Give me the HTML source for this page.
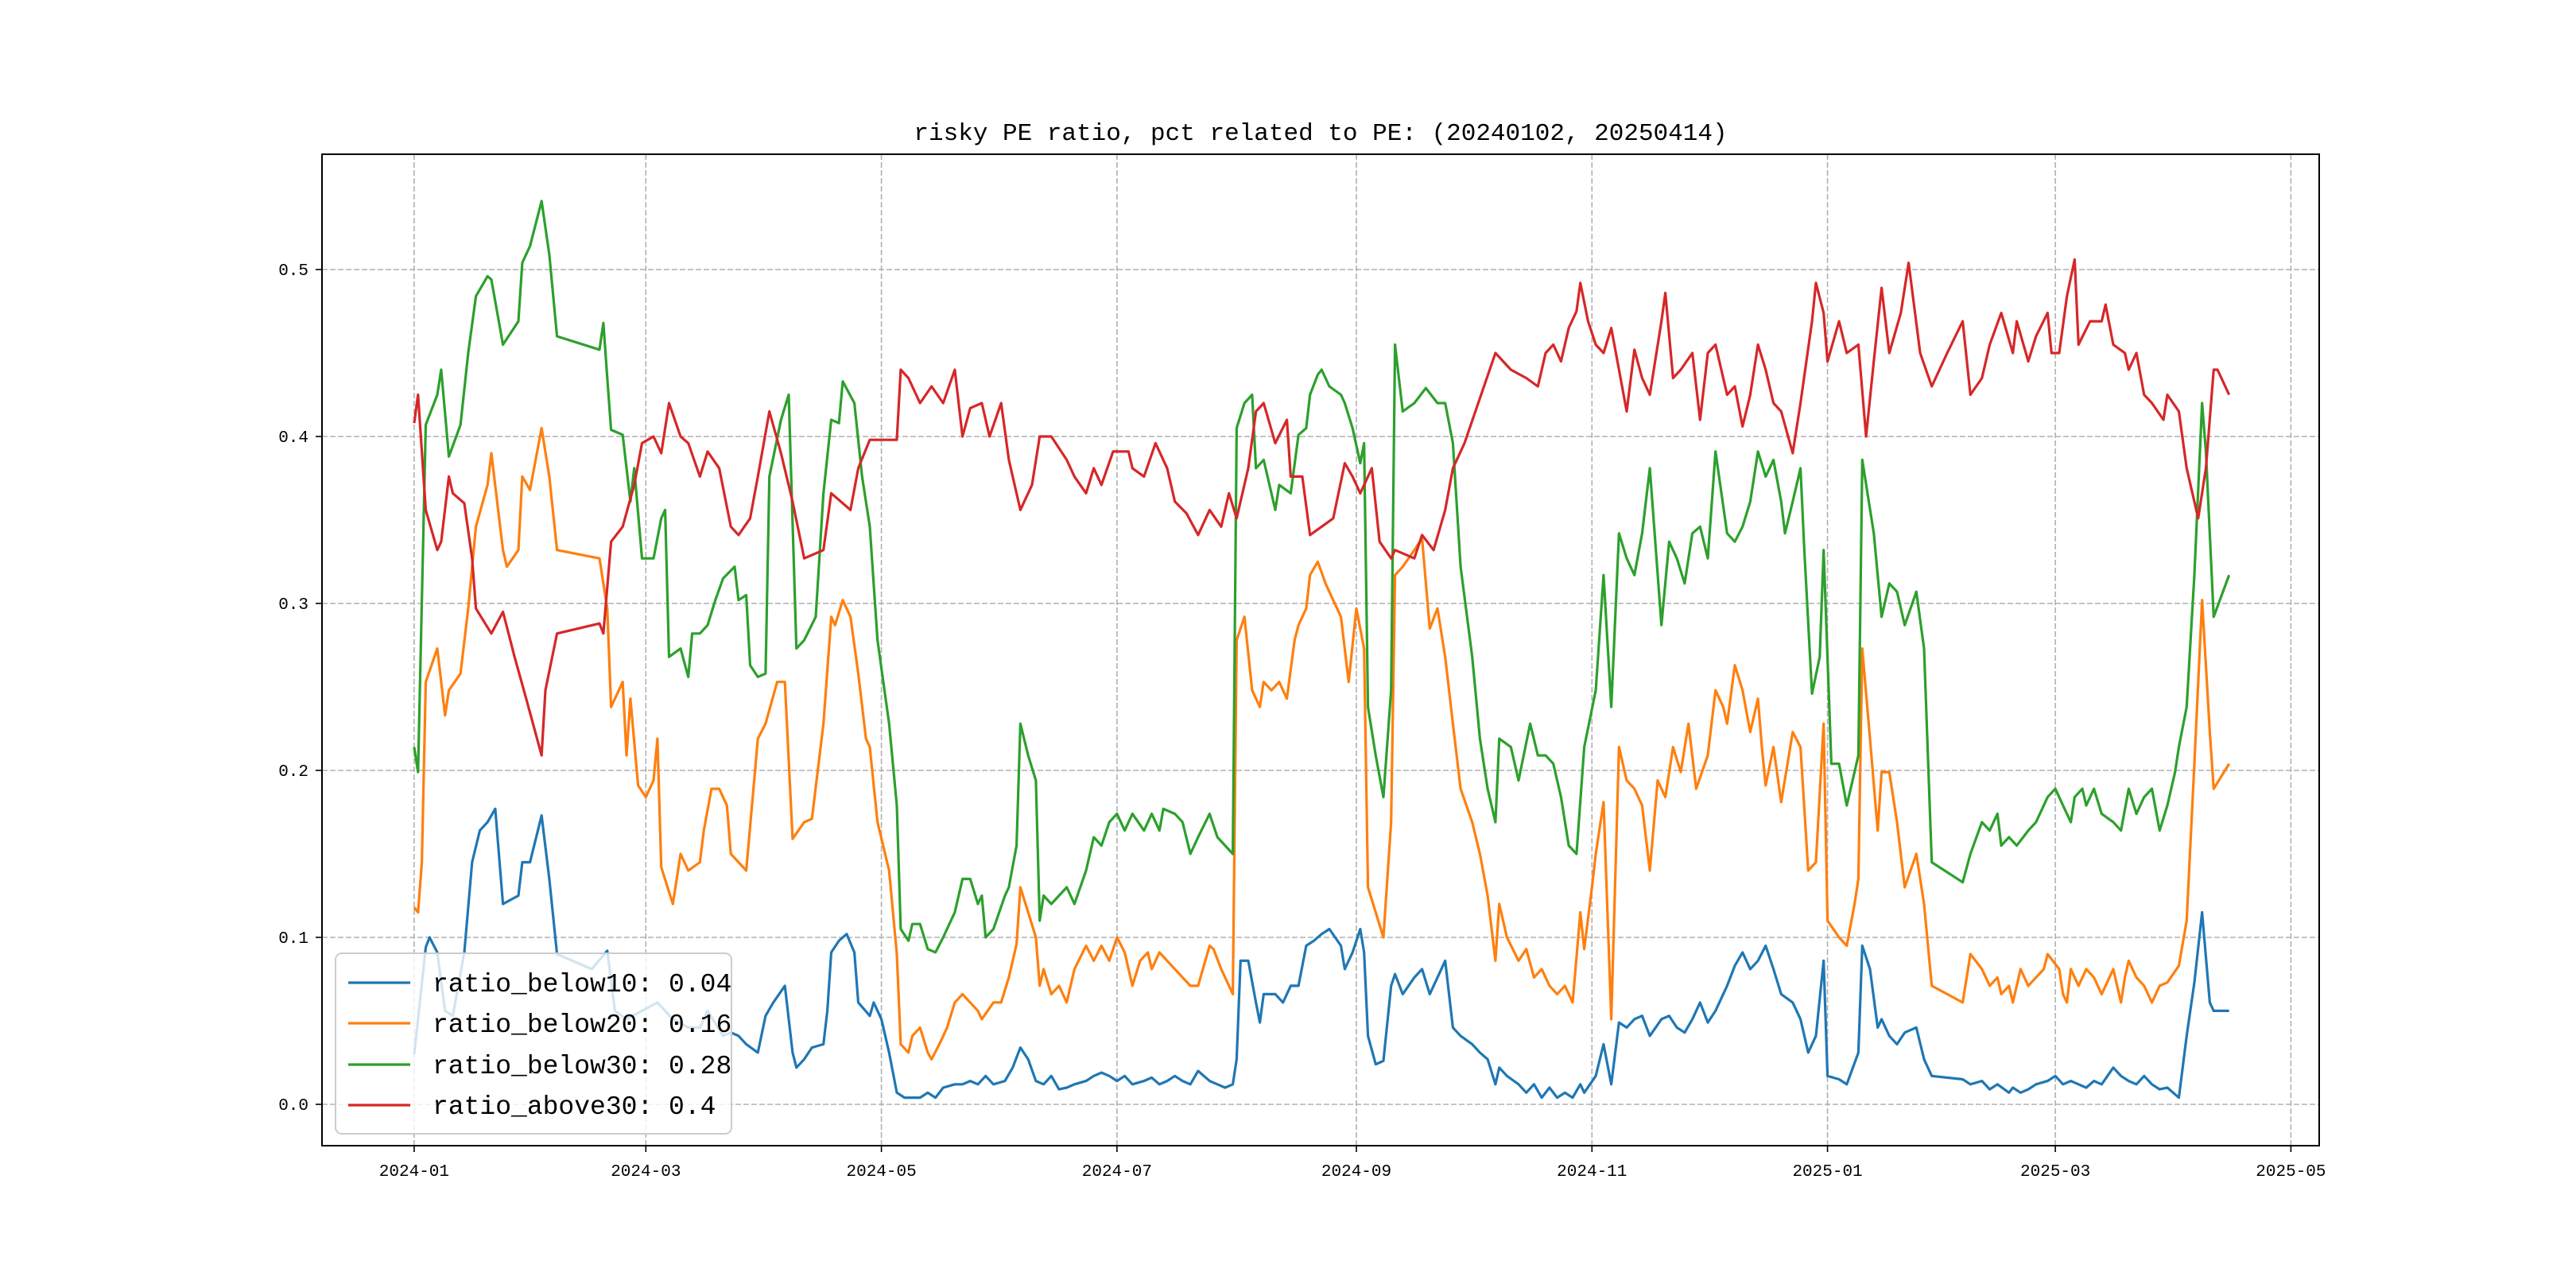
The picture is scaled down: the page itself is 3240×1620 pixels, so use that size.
<!DOCTYPE html>
<html>
<head>
<meta charset="utf-8">
<style>
html,body{margin:0;padding:0;background:#fff;}
svg{display:block;}
text{font-family:"Liberation Mono","WenQuanYi Zen Hei",monospace;fill:#000;}
</style>
</head>
<body>
<svg id="chart" width="3240" height="1620" viewBox="0 0 3240 1620" xmlns="http://www.w3.org/2000/svg">
<rect width="3240" height="1620" fill="#fff"/>
<text x="1661" y="176" font-size="31" text-anchor="middle">risky PE ratio, pct related to PE: (20240102, 20250414)</text>
<g id="grid"></g>
<g id="series"></g>
<rect x="405" y="194" width="2512" height="1247" fill="none" stroke="#000" stroke-width="2"/>
<g id="ticks"></g>
<g id="legend">
<rect x="422" y="1199" width="498" height="227" rx="8" fill="#fff" fill-opacity="0.8" stroke="#ccc" stroke-width="2"/>
<line x1="438" y1="1236" x2="516" y2="1236" stroke="#1f77b4" stroke-width="3.2"/>
<text x="544" y="1247" font-size="33">ratio_below10: 0.04</text>
<line x1="438" y1="1287" x2="516" y2="1287" stroke="#ff7f0e" stroke-width="3.2"/>
<text x="544" y="1298" font-size="33">ratio_below20: 0.16</text>
<line x1="438" y1="1339" x2="516" y2="1339" stroke="#2ca02c" stroke-width="3.2"/>
<text x="544" y="1350" font-size="33">ratio_below30: 0.28</text>
<line x1="438" y1="1390" x2="516" y2="1390" stroke="#d62728" stroke-width="3.2"/>
<text x="544" y="1401" font-size="33">ratio_above30: 0.4</text>
</g>
</svg>
<script>
// days since 2024-01-01
const xTickDays = [0,60,121,182,244,305,366,425,486];
const xTickLabels = ["2024-01","2024-03","2024-05","2024-07","2024-09","2024-11","2025-01","2025-03","2025-05"];
const yTickValues = [0,0.1,0.2,0.3,0.4,0.5];
const yTickLabels = ["0.0","0.1","0.2","0.3","0.4","0.5"];

const redDays = [0,1,3,6,7,9,10,13,15,16,20,23,26,29,33,34,37,48,49,51,54,57,59,62,64,66,69,71,74,76,79,82,84,87,89,92,95,98,101,106,108,113,115,118,125,126,128,131,134,137,140,142,144,147,149,152,154,157,160,162,165,169,171,174,176,178,181,185,186,189,192,195,197,200,203,206,209,211,213,216,218,220,223,226,227,230,232,235,238,241,243,245,248,250,253,254,259,261,264,267,269,272,280,284,288,291,293,295,297,299,301,302,304,306,308,310,312,314,316,318,320,323,324,326,328,331,333,335,337,340,342,344,346,348,350,352,354,357,359,362,363,365,366,369,371,374,376,378,380,382,385,387,390,393,397,401,403,406,408,411,414,415,418,420,423,424,426,428,430,431,434,437,438,440,443,444,446,448,450,453,454,457,459,462,464,466,467,470];
const redValues = [.408,.425,.356,.332,.337,.376,.366,.36,.327,.297,.282,.295,.268,.243,.209,.248,.282,.288,.282,.337,.346,.371,.396,.4,.39,.42,.4,.396,.376,.391,.381,.346,.341,.351,.376,.415,.39,.361,.327,.332,.366,.356,.381,.398,.398,.44,.435,.42,.43,.42,.44,.4,.417,.42,.4,.42,.386,.356,.371,.4,.4,.386,.376,.366,.381,.371,.391,.391,.381,.376,.396,.381,.361,.354,.341,.356,.346,.366,.351,.381,.415,.42,.396,.41,.376,.376,.341,.346,.351,.384,.376,.366,.381,.337,.327,.332,.327,.341,.332,.356,.381,.396,.45,.44,.435,.43,.45,.455,.445,.465,.475,.492,.469,.455,.45,.465,.44,.415,.452,.435,.425,.469,.486,.435,.44,.45,.41,.45,.455,.425,.43,.406,.425,.455,.44,.42,.415,.39,.42,.469,.492,.474,.445,.469,.45,.455,.4,.445,.489,.45,.474,.504,.45,.43,.45,.469,.425,.435,.455,.474,.45,.469,.445,.46,.474,.45,.45,.484,.506,.455,.469,.469,.479,.455,.45,.44,.45,.425,.42,.41,.425,.415,.381,.351,.381,.44,.44,.425];

const greenDays = [0,1,3,6,7,9,12,14,16,19,20,23,27,28,30,33,35,37,48,49,50,51,54,56,57,59,62,64,65,66,69,71,72,74,76,78,80,83,84,86,87,89,91,92,95,97,99,101,104,106,108,110,111,114,116,118,120,123,125,126,128,129,131,133,135,137,140,142,144,146,147,148,150,153,154,156,157,159,161,162,163,165,167,169,171,174,176,178,180,182,184,186,189,191,193,194,197,199,201,203,206,208,210,212,213,215,217,218,220,223,224,227,229,231,232,234,235,237,240,241,243,245,246,247,249,251,253,254,256,259,262,265,267,269,271,274,276,278,280,281,284,286,289,291,293,295,297,299,301,303,306,308,310,312,314,316,318,320,323,325,327,329,331,333,335,337,340,342,344,346,348,350,352,354,355,357,359,360,362,364,365,367,369,371,374,375,378,380,382,384,386,389,391,393,401,403,406,408,410,411,413,415,418,420,423,425,427,429,430,432,433,435,437,440,442,444,446,448,450,452,454,456,457,459,461,463,464,466,470];
const greenValues = [.214,.199,.407,.425,.44,.388,.407,.45,.484,.496,.494,.455,.469,.504,.514,.541,.509,.46,.452,.468,.435,.404,.401,.361,.381,.327,.327,.351,.356,.268,.273,.256,.282,.282,.287,.302,.315,.322,.302,.305,.263,.256,.258,.376,.41,.425,.273,.278,.292,.366,.41,.408,.433,.42,.376,.346,.278,.228,.179,.105,.098,.108,.108,.093,.091,.1,.115,.135,.135,.12,.125,.1,.105,.125,.13,.155,.228,.209,.194,.11,.125,.12,.125,.13,.12,.14,.16,.155,.169,.174,.164,.174,.164,.174,.164,.177,.174,.169,.15,.16,.174,.16,.155,.15,.405,.42,.425,.381,.386,.356,.371,.366,.401,.405,.425,.437,.44,.43,.425,.42,.405,.384,.396,.238,.209,.184,.248,.455,.415,.42,.429,.42,.42,.396,.322,.268,.219,.189,.169,.219,.214,.194,.228,.209,.209,.204,.184,.155,.15,.214,.248,.317,.238,.342,.327,.317,.342,.381,.287,.337,.327,.312,.342,.346,.327,.391,.342,.337,.346,.361,.391,.376,.386,.361,.342,.361,.381,.332,.246,.268,.332,.204,.204,.179,.209,.386,.342,.292,.312,.307,.287,.307,.273,.145,.133,.15,.169,.164,.174,.155,.16,.155,.164,.169,.184,.189,.179,.169,.184,.189,.179,.189,.174,.169,.164,.189,.174,.184,.189,.164,.179,.199,.214,.238,.317,.42,.391,.292,.317];

const orangeDays = [0,1,2,3,6,8,9,12,14,16,19,20,23,24,27,28,30,33,35,37,48,50,51,54,55,56,58,60,62,63,64,67,69,71,74,75,77,79,81,82,84,86,89,91,94,96,98,101,103,106,108,109,111,113,115,117,118,120,123,125,126,128,129,131,133,134,136,138,140,142,144,146,147,150,152,154,156,157,159,161,162,163,165,167,169,171,174,176,178,180,182,184,186,188,190,191,193,195,197,199,201,203,206,207,209,210,212,213,215,217,219,220,222,224,226,228,229,231,232,234,236,237,240,242,244,246,247,249,251,253,254,256,259,261,263,265,267,269,271,274,276,278,280,281,283,286,288,290,292,294,296,298,300,302,303,305,306,308,310,312,314,316,318,320,322,324,326,328,330,332,335,337,339,340,342,344,346,348,349,350,352,354,357,359,361,363,365,366,369,371,373,374,375,377,379,380,382,384,386,389,391,393,401,403,406,408,410,411,413,414,416,418,420,422,423,426,427,428,429,431,433,435,437,440,442,443,444,446,448,450,452,454,457,459,461,463,465,466,470];
const orangeValues = [.118,.115,.145,.253,.273,.233,.248,.258,.297,.346,.371,.39,.332,.322,.332,.376,.368,.405,.376,.332,.327,.297,.238,.253,.209,.243,.191,.184,.194,.219,.142,.12,.15,.14,.145,.164,.189,.189,.179,.15,.145,.14,.219,.228,.253,.253,.159,.169,.171,.228,.292,.287,.302,.292,.258,.219,.214,.169,.14,.09,.036,.031,.041,.046,.031,.027,.036,.046,.061,.066,.061,.056,.051,.061,.061,.076,.096,.13,.115,.1,.071,.081,.066,.071,.061,.081,.095,.086,.095,.086,.1,.091,.071,.086,.091,.081,.091,.086,.081,.076,.071,.071,.095,.093,.081,.076,.066,.278,.292,.248,.238,.253,.248,.253,.243,.278,.287,.297,.317,.325,.312,.307,.292,.253,.297,.273,.13,.115,.1,.169,.317,.322,.332,.339,.285,.297,.268,.228,.189,.169,.15,.125,.086,.12,.1,.086,.093,.076,.081,.071,.066,.071,.061,.115,.093,.13,.15,.181,.051,.214,.194,.189,.179,.14,.194,.184,.214,.199,.228,.189,.209,.248,.238,.228,.263,.248,.223,.243,.214,.191,.214,.181,.223,.214,.14,.145,.228,.11,.1,.095,.12,.135,.273,.219,.164,.199,.199,.169,.13,.15,.12,.071,.061,.09,.081,.071,.076,.066,.071,.061,.081,.071,.076,.081,.09,.081,.066,.061,.081,.071,.081,.076,.066,.081,.061,.076,.086,.076,.071,.061,.071,.073,.083,.11,.204,.302,.223,.189,.204];

const blueDays = [0,1,3,4,6,8,10,13,15,17,19,21,23,27,28,30,33,35,37,46,50,52,55,59,63,67,71,74,76,80,82,84,86,89,91,93,96,98,99,101,103,106,107,108,110,112,114,115,118,119,121,123,125,127,129,131,133,135,137,140,142,144,146,148,150,153,155,157,159,161,163,165,167,169,171,174,176,178,180,182,184,186,189,191,193,195,197,199,201,203,206,208,210,212,213,214,216,218,219,220,223,225,227,229,231,233,235,237,240,241,243,245,246,247,249,251,253,254,256,259,261,263,265,267,269,271,274,276,278,280,281,283,286,288,290,292,294,296,298,300,302,303,306,308,310,312,314,316,318,320,323,325,327,329,331,333,335,337,340,342,344,346,348,350,352,354,357,359,361,363,365,366,369,371,374,375,377,379,380,382,384,386,389,391,393,401,403,406,408,410,413,414,416,418,420,423,425,427,429,431,433,435,437,440,442,444,446,448,450,452,454,457,459,461,463,465,466,470];
const blueValues = [.03,.051,.094,.1,.091,.056,.053,.091,.145,.164,.169,.177,.12,.125,.145,.145,.173,.135,.09,.081,.092,.056,.051,.056,.061,.051,.046,.046,.056,.041,.043,.041,.036,.031,.053,.061,.071,.031,.022,.027,.034,.036,.056,.091,.098,.102,.091,.061,.053,.061,.051,.031,.007,.004,.004,.004,.007,.004,.01,.012,.012,.014,.012,.017,.012,.014,.022,.034,.027,.014,.012,.017,.009,.01,.012,.014,.017,.019,.017,.014,.017,.012,.014,.016,.012,.014,.017,.014,.012,.02,.014,.012,.01,.012,.027,.086,.086,.061,.049,.066,.066,.061,.071,.071,.095,.098,.102,.105,.095,.081,.091,.105,.091,.041,.024,.026,.071,.078,.066,.076,.081,.066,.076,.086,.046,.041,.036,.031,.027,.012,.022,.017,.012,.007,.012,.004,.01,.004,.007,.004,.012,.007,.017,.036,.012,.049,.046,.051,.053,.041,.051,.053,.046,.043,.051,.061,.049,.056,.071,.083,.091,.081,.086,.095,.081,.066,.061,.051,.031,.041,.086,.017,.015,.012,.031,.095,.081,.046,.051,.041,.036,.043,.046,.027,.017,.015,.012,.014,.009,.012,.007,.01,.007,.009,.012,.014,.017,.012,.014,.012,.01,.014,.012,.022,.017,.014,.012,.017,.012,.009,.01,.004,.041,.073,.115,.061,.056,.056];

const NS = "http://www.w3.org/2000/svg";
const X0 = 520.9, PXDAY = 4.857, Y0 = 1389, PXUNIT = 2100;
const L = 405, R = 2917, T = 194, B = 1441;
function xScale(d){ return X0 + d * PXDAY; }
function yScale(v){ return Y0 - v * PXUNIT; }

const grid = document.getElementById('grid');
const ticks = document.getElementById('ticks');
xTickDays.forEach((d,i)=>{
  const x = xScale(d);
  const gl = document.createElementNS(NS,'line');
  gl.setAttribute('x1',x);gl.setAttribute('x2',x);gl.setAttribute('y1',T);gl.setAttribute('y2',B);
  gl.setAttribute('stroke','#b0b0b0');gl.setAttribute('stroke-width','1.6');gl.setAttribute('stroke-dasharray','7,3');
  
  
  grid.appendChild(gl);
  const tk = document.createElementNS(NS,'line');
  tk.setAttribute('x1',x);tk.setAttribute('x2',x);tk.setAttribute('y1',B);tk.setAttribute('y2',B+8);
  tk.setAttribute('stroke','#000');tk.setAttribute('stroke-width','1.6');
  
  
  ticks.appendChild(tk);
  const t = document.createElementNS(NS,'text');
  t.setAttribute('x',x);t.setAttribute('y',1479);t.setAttribute('font-size','21');t.setAttribute('text-anchor','middle');
  t.textContent = xTickLabels[i];
  
  
  ticks.appendChild(t);
});
yTickValues.forEach((v,i)=>{
  const y = yScale(v);
  const gl = document.createElementNS(NS,'line');
  gl.setAttribute('x1',L);gl.setAttribute('x2',R);gl.setAttribute('y1',y);gl.setAttribute('y2',y);
  gl.setAttribute('stroke','#b0b0b0');gl.setAttribute('stroke-width','1.6');gl.setAttribute('stroke-dasharray','7,3');
  
  
  grid.appendChild(gl);
  const tk = document.createElementNS(NS,'line');
  tk.setAttribute('x1',L-8);tk.setAttribute('x2',L);tk.setAttribute('y1',y);tk.setAttribute('y2',y);
  tk.setAttribute('stroke','#000');tk.setAttribute('stroke-width','1.6');
  
  
  ticks.appendChild(tk);
  const t = document.createElementNS(NS,'text');
  t.setAttribute('x',388);t.setAttribute('y',y+7);t.setAttribute('font-size','21');t.setAttribute('text-anchor','end');
  t.textContent = yTickLabels[i];
  
  
  ticks.appendChild(t);
});

const seriesG = document.getElementById('series');
function drawSeries(days, vals, color, name){
  const p = document.createElementNS(NS,'polyline');
  p.setAttribute('points', days.map((d,i)=>xScale(d).toFixed(1)+','+yScale(vals[i]).toFixed(1)).join(' '));
  p.setAttribute('fill','none');p.setAttribute('stroke',color);p.setAttribute('stroke-width','3.2');
  p.setAttribute('stroke-linejoin','round');
  
  
  seriesG.appendChild(p);
}
drawSeries(blueDays, blueValues, '#1f77b4', 'line-ratio-below10');
drawSeries(orangeDays, orangeValues, '#ff7f0e', 'line-ratio-below20');
drawSeries(greenDays, greenValues, '#2ca02c', 'line-ratio-below30');
drawSeries(redDays, redValues, '#d62728', 'line-ratio-above30');
</script>
</body>
</html>
